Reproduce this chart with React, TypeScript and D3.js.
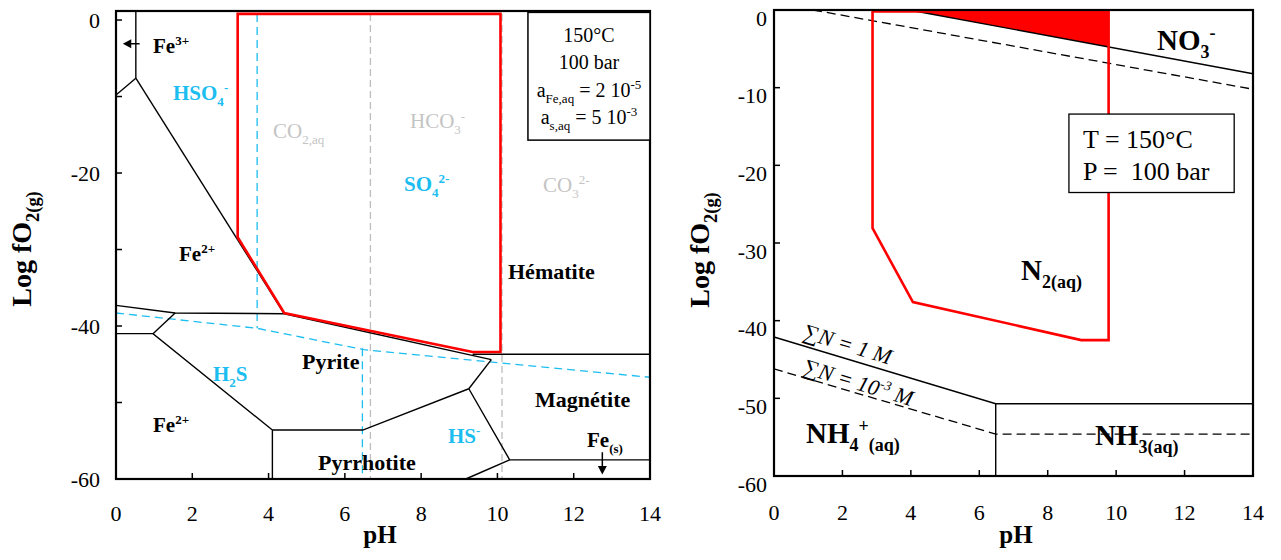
import React from "react";
import * as d3 from "d3";

type Pt = [number, number];

// ---------- shared ticks ----------
const pHTicks = [0, 2, 4, 6, 8, 10, 12, 14];
const pHInnerTicks = [2, 4, 6, 8, 10, 12];
const leftYLabels = [0, -20, -40, -60];
const leftYTickMarks = [0, -10, -20, -30, -40, -50];
const rightYLabels = [0, -10, -20, -30, -40, -50, -60];
const rightYTickMarks = [-10, -20, -30, -40, -50];

// ---------- left panel (Fe-S-O) ----------
const leftBoundaries: Pt[][] = [
  [[0.52, 1.2], [0.52, -7.6]],
  [[0, -9.8], [0.52, -7.6]],
  [[0.52, -7.6], [4.41, -38.4]],
  [[0, -37.3], [1.55, -38.3], [4.41, -38.4]],
  [[4.41, -38.4], [9.84, -44.4]],
  [[9.35, -43.7], [14, -43.7]],
  [[9.84, -44.4], [9.25, -48.2]],
  [[9.25, -48.2], [6.47, -53.6], [4.1, -53.6]],
  [[4.1, -60], [4.1, -53.6], [0.97, -41], [0, -41]],
  [[0.97, -41], [1.55, -38.3]],
  [[9.25, -48.2], [10.32, -57.5], [14, -57.5]],
  [[9.17, -60], [10.32, -57.5]],
];
const leftRedOutline: Pt[] = [
  [3.19, 0.8], [3.19, -28.4], [4.41, -38.3], [9.35, -43.4], [10.08, -43.4], [10.08, 0.8],
];
const leftGrayDashed: Pt[][] = [
  [[6.67, 0.8], [6.67, -60]],
  [[10.12, 0.8], [10.12, -60]],
];
const leftCyanDashed: Pt[][] = [
  [[3.7, 0.8], [3.7, -40.3]],
  [[6.46, -42.9], [6.46, -60]],
  [[0, -38.3], [3.7, -40.3], [6.5, -43.1], [14, -46.7]],
];

// ---------- right panel (N-O-H) ----------
const rightRedFill: Pt[] = [[3.95, 0], [9.78, 0], [9.78, -4.76]];
const rightRedOutline: Pt[] = [
  [2.88, -0.2], [2.88, -28.1], [4.06, -37.6], [8.98, -42.5], [9.78, -42.5], [9.78, -0.2],
];
const rightSolid: Pt[][] = [
  [[3.95, 0], [14, -8.2]],
  [[0, -42.1], [6.48, -50.7], [14, -50.7]],
  [[6.48, -50.7], [6.48, -60]],
];
const rightDashed: Pt[][] = [
  [[1.14, 0], [14, -10.2]],
  [[0, -46.2], [6.48, -54.6], [14, -54.6]],
];

const FONT = "'Liberation Serif', 'Times New Roman', Times, serif";
const CYAN = "#1CBDF0";
const GRAY = "#C4C4C4";

type Part = { t: string; s?: "sub" | "sup" };

function Rich(props: {
  x: number; y: number; parts: Part[]; size: number; fill?: string;
  bold?: boolean; italic?: boolean; anchor?: string; transform?: string; small?: number;
}) {
  const { x, y, parts, size, fill = "#000", bold, italic, anchor = "start", transform, small = 0.62 } = props;
  let cur = 0;
  return (
    <text x={x} y={y} fontSize={size} fill={fill} fontFamily={FONT}
      fontWeight={bold ? "bold" : "normal"} fontStyle={italic ? "italic" : "normal"}
      textAnchor={anchor} transform={transform} style={{ whiteSpace: "pre" }}>
      {parts.map((p, i) => {
        const target = p.s === "sub" ? size * 0.28 : p.s === "sup" ? -size * 0.38 : 0;
        const dy = target - cur;
        cur = target;
        return (
          <tspan key={i} dy={dy} fontSize={p.s ? size * small : size}>{p.t}</tspan>
        );
      })}
    </text>
  );
}

export default function App() {
  const xL = d3.scaleLinear().domain([0, 14]).range([116, 650]);
  const yL = d3.scaleLinear().domain([-60, 1.18]).range([479, 11]);
  const xR = d3.scaleLinear().domain([0, 14]).range([774, 1253]);
  const yR = d3.scaleLinear().domain([-60, 0]).range([476, 10]);

  const lineL = d3.line<Pt>().x((d) => xL(d[0])).y((d) => yL(d[1]));
  const lineR = d3.line<Pt>().x((d) => xR(d[0])).y((d) => yR(d[1]));

  const tick = 6;

  return (
    <svg width={1281} height={560} style={{ position: "absolute", left: 0, top: 0, background: "#fff" }}>
      <rect x={0} y={0} width={1281} height={560} fill="#fff" />

      {/* ================= LEFT PANEL ================= */}
      {leftGrayDashed.map((l, i) => (
        <path key={"lg" + i} d={lineL(l) || ""} fill="none" stroke="#BDBDBD" strokeWidth={1.3} strokeDasharray="7,4" />
      ))}
      {leftCyanDashed.map((l, i) => (
        <path key={"lc" + i} d={lineL(l) || ""} fill="none" stroke={CYAN} strokeWidth={1.3} strokeDasharray="8,5" />
      ))}
      {leftBoundaries.map((l, i) => (
        <path key={"lb" + i} d={lineL(l) || ""} fill="none" stroke="#000" strokeWidth={1.4} />
      ))}
      <path d={(lineL(leftRedOutline) || "") + "Z"} fill="none" stroke="#FF0000" strokeWidth={2.6} strokeLinejoin="miter" />

      {/* frame */}
      <rect x={xL(0)} y={yL(1.18)} width={xL(14) - xL(0)} height={yL(-60) - yL(1.18)} fill="none" stroke="#000" strokeWidth={2.2} />
      {pHInnerTicks.map((t) => (
        <line key={"lxt" + t} x1={xL(t)} x2={xL(t)} y1={yL(-60)} y2={yL(-60) - tick} stroke="#000" strokeWidth={1.5} />
      ))}
      {leftYTickMarks.map((t) => (
        <line key={"lyt" + t} x1={xL(0)} x2={xL(0) + tick} y1={yL(t)} y2={yL(t)} stroke="#000" strokeWidth={1.5} />
      ))}
      {pHTicks.map((t) => (
        <text key={"lxl" + t} x={xL(t)} y={521} fontSize={22} textAnchor="middle" fontFamily={FONT}>{t}</text>
      ))}
      {leftYLabels.map((t) => (
        <text key={"lyl" + t} x={100} y={yL(t)} dy="0.35em" fontSize={22} textAnchor="end" fontFamily={FONT}>{t}</text>
      ))}
      <text x={380} y={543} fontSize={25} fontWeight="bold" textAnchor="middle" fontFamily={FONT}>pH</text>
      <Rich x={0} y={0} size={28} bold anchor="middle" transform={`translate(31,249) rotate(-90)`}
        parts={[{ t: "Log fO" }, { t: "2(g)", s: "sub" }]} small={0.66} />

      {/* legend box */}
      <rect x={xL(10.8)} y={yL(1.0)} width={xL(14) - xL(10.8)} height={yL(-15.7) - yL(1.0)} fill="#fff" stroke="#000" strokeWidth={1.5} />
      <text x={589} y={42} fontSize={20} textAnchor="middle" fontFamily={FONT}>150°C</text>
      <text x={589} y={69} fontSize={20} textAnchor="middle" fontFamily={FONT}>100 bar</text>
      <Rich x={589} y={97} size={20} anchor="middle" small={0.65}
        parts={[{ t: "a" }, { t: "Fe,aq", s: "sub" }, { t: " = 2 10" }, { t: "-5", s: "sup" }]} />
      <Rich x={589} y={124} size={20} anchor="middle" small={0.65}
        parts={[{ t: "a" }, { t: "s,aq", s: "sub" }, { t: " = 5 10" }, { t: "-3", s: "sup" }]} />

      {/* arrows */}
      <line x1={xL(0.62)} x2={xL(0.34)} y1={yL(-3.1)} y2={yL(-3.1)} stroke="#000" strokeWidth={1.5} />
      <path d={`M${xL(0.18)},${yL(-3.1)} L${xL(0.4)},${yL(-3.1) - 4.5} L${xL(0.4)},${yL(-3.1) + 4.5} Z`} fill="#000" />
      <line x1={xL(12.75)} x2={xL(12.75)} y1={yL(-56.5)} y2={yL(-58.6)} stroke="#000" strokeWidth={1.5} />
      <path d={`M${xL(12.75)},${yL(-59.4)} L${xL(12.75) - 4.5},${yL(-58.3)} L${xL(12.75) + 4.5},${yL(-58.3)} Z`} fill="#000" />

      {/* labels */}
      <Rich x={153} y={53} size={21} bold parts={[{ t: "Fe" }, { t: "3+", s: "sup" }]} />
      <Rich x={173} y={100} size={21} bold fill={CYAN} parts={[{ t: "HSO" }, { t: "4", s: "sub" }, { t: "-", s: "sup" }]} />
      <Rich x={273} y={138} size={21} fill={GRAY} parts={[{ t: "CO" }, { t: "2,aq", s: "sub" }]} />
      <Rich x={410} y={128} size={21} fill={GRAY} parts={[{ t: "HCO" }, { t: "3", s: "sub" }, { t: "-", s: "sup" }]} />
      <Rich x={404} y={191} size={21} bold fill={CYAN} parts={[{ t: "SO" }, { t: "4", s: "sub" }, { t: "2-", s: "sup" }]} />
      <Rich x={543} y={192} size={21} fill={GRAY} parts={[{ t: "CO" }, { t: "3", s: "sub" }, { t: "2-", s: "sup" }]} />
      <Rich x={179} y={261} size={21} bold parts={[{ t: "Fe" }, { t: "2+", s: "sup" }]} />
      <text x={508} y={279} fontSize={22} fontWeight="bold" fontFamily={FONT}>Hématite</text>
      <text x={302} y={369} fontSize={22} fontWeight="bold" fontFamily={FONT}>Pyrite</text>
      <Rich x={213} y={381} size={21} bold fill={CYAN} parts={[{ t: "H" }, { t: "2", s: "sub" }, { t: "S" }]} />
      <text x={535} y={407} fontSize={22} fontWeight="bold" fontFamily={FONT}>Magnétite</text>
      <Rich x={153} y={432} size={21} bold parts={[{ t: "Fe" }, { t: "2+", s: "sup" }]} />
      <Rich x={448} y={443} size={21} bold fill={CYAN} parts={[{ t: "HS" }, { t: "-", s: "sup" }]} />
      <Rich x={587} y={447} size={21} bold parts={[{ t: "Fe" }, { t: "(s)", s: "sub" }]} />
      <text x={318} y={470} fontSize={22} fontWeight="bold" fontFamily={FONT}>Pyrrhotite</text>

      {/* ================= RIGHT PANEL ================= */}
      <path d={(lineR(rightRedFill) || "") + "Z"} fill="#FF0000" stroke="none" />
      {rightDashed.map((l, i) => (
        <path key={"rd" + i} d={lineR(l) || ""} fill="none" stroke="#000" strokeWidth={1.3} strokeDasharray="9,5" />
      ))}
      {rightSolid.map((l, i) => (
        <path key={"rs" + i} d={lineR(l) || ""} fill="none" stroke="#000" strokeWidth={1.4} />
      ))}
      <path d={(lineR(rightRedOutline) || "") + "Z"} fill="none" stroke="#FF0000" strokeWidth={2.6} />

      {/* T/P box */}
      <rect x={xR(8.62)} y={yR(-13.4)} width={xR(13.45) - xR(8.62)} height={yR(-23.5) - yR(-13.4)} fill="#fff" stroke="#000" strokeWidth={1.3} />
      <text x={1083} y={148} fontSize={26} fontFamily={FONT}>T = 150°C</text>
      <text x={1083} y={180} fontSize={26} fontFamily={FONT} style={{ whiteSpace: "pre" }}>{"P =  100 bar"}</text>

      {/* frame */}
      <rect x={xR(0)} y={yR(0)} width={xR(14) - xR(0)} height={yR(-60) - yR(0)} fill="none" stroke="#000" strokeWidth={2.2} />
      {pHInnerTicks.map((t) => (
        <line key={"rxt" + t} x1={xR(t)} x2={xR(t)} y1={yR(-60)} y2={yR(-60) - tick} stroke="#000" strokeWidth={1.5} />
      ))}
      {rightYTickMarks.map((t) => (
        <line key={"ryt" + t} x1={xR(0)} x2={xR(0) + tick} y1={yR(t)} y2={yR(t)} stroke="#000" strokeWidth={1.5} />
      ))}
      {pHTicks.map((t) => (
        <text key={"rxl" + t} x={xR(t)} y={520} fontSize={22} textAnchor="middle" fontFamily={FONT}>{t}</text>
      ))}
      {rightYLabels.map((t) => (
        <text key={"ryl" + t} x={767} y={yR(t) + 8} dy="0.35em" fontSize={22} textAnchor="end" fontFamily={FONT}>{t}</text>
      ))}
      <text x={1016} y={543} fontSize={25} fontWeight="bold" textAnchor="middle" fontFamily={FONT}>pH</text>
      <Rich x={0} y={0} size={28} bold anchor="middle" transform={`translate(709,250) rotate(-90)`}
        parts={[{ t: "Log fO" }, { t: "2(g)", s: "sub" }]} small={0.66} />

      {/* labels */}
      <Rich x={1157} y={50} size={29} bold parts={[{ t: "NO" }, { t: "3", s: "sub" }, { t: "-", s: "sup" }]} />
      <Rich x={1021} y={280} size={29} bold parts={[{ t: "N" }, { t: "2(aq)", s: "sub" }]} />
      <Rich x={806} y={443} size={29} bold parts={[{ t: "NH" }, { t: "4", s: "sub" }, { t: "+", s: "sup" }, { t: "(aq)", s: "sub" }]} />
      <Rich x={1095} y={445} size={29} bold parts={[{ t: "NH" }, { t: "3(aq)", s: "sub" }]} />
      <Rich x={0} y={0} size={22} italic transform={`translate(802,338) rotate(17)`}
        parts={[{ t: "∑N = 1 M" }]} />
      <Rich x={0} y={0} size={22} italic transform={`translate(802,373) rotate(17)`}
        parts={[{ t: "∑N = 10" }, { t: "-3", s: "sup" }, { t: " M" }]} />
    </svg>
  );
}
